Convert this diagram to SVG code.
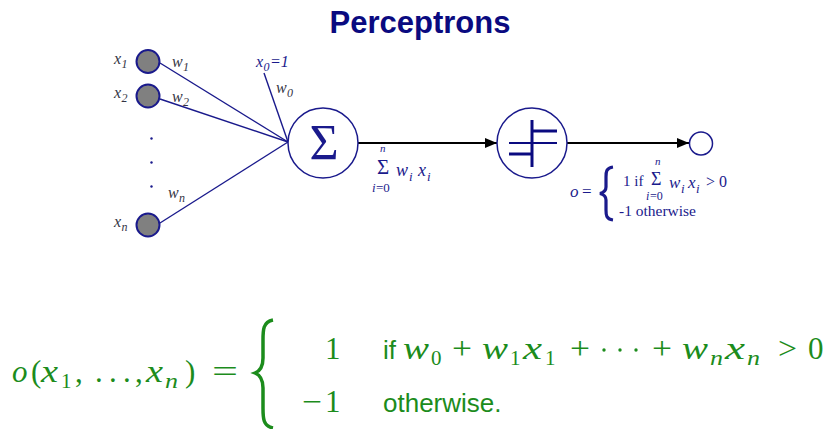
<svg xmlns="http://www.w3.org/2000/svg" width="833" height="429" viewBox="0 0 833 429">
<defs>
<style>
.title{font-family:"Liberation Sans",Arial,sans-serif;font-weight:bold;font-size:31px;fill:#0a0a80}
.lbl{font-family:"Liberation Serif","Times New Roman",serif;font-style:italic;fill:#333344}
.blu{font-family:"Liberation Serif","Times New Roman",serif;fill:#1a1a8c}
.it{font-style:italic}
.node{fill:#808080;stroke:#1a1a8c;stroke-width:2}
.unit{fill:#ffffff;stroke:#1a1a8c;stroke-width:1.5}
.wire{stroke:#1a1a8c;stroke-width:1.4;fill:none}
.arrow{stroke:#000;stroke-width:2;fill:none}
.thr{stroke:#0a0a80;fill:none}
.m{font-family:"Liberation Serif","Times New Roman",serif;font-size:31px;fill:#1c8c1c}
.ms{font-family:"Liberation Serif","Times New Roman",serif;font-size:21px;fill:#1c8c1c}
.t{font-family:"Liberation Sans",Arial,sans-serif;font-size:26px;fill:#1c8c1c}
</style>
<marker id="ah" markerWidth="12" markerHeight="10" refX="12" refY="5" orient="auto" markerUnits="userSpaceOnUse">
<path d="M0,0 L12,5 L0,10 Z" fill="#000"/>
</marker>
</defs>

<text class="title" x="420" y="33" text-anchor="middle">Perceptrons</text>

<g id="connectors">
<line class="wire" x1="160" y1="63" x2="288" y2="142"/>
<line class="wire" x1="160" y1="99" x2="288" y2="142"/>
<line class="wire" x1="160" y1="223" x2="288" y2="142"/>
<line class="wire" x1="264" y1="73" x2="288" y2="142"/>
<line class="arrow" x1="358" y1="143" x2="497" y2="143" marker-end="url(#ah)"/>
<line class="arrow" x1="567" y1="143" x2="689" y2="143" marker-end="url(#ah)"/>
</g>

<g id="x1">
<circle class="node" cx="148" cy="61.5" r="11.5"/>
<text class="lbl" x="114" y="64" font-size="16">x</text>
<text class="lbl" x="121.5" y="68" font-size="12">1</text>
<text class="lbl" x="172" y="67" font-size="16">w</text>
<text class="lbl" x="183" y="71" font-size="12">1</text>
</g>

<g id="x2">
<circle class="node" cx="148" cy="96" r="11.5"/>
<text class="lbl" x="114" y="98" font-size="16">x</text>
<text class="lbl" x="121.5" y="102" font-size="12">2</text>
<text class="lbl" x="172" y="102" font-size="16">w</text>
<text class="lbl" x="183" y="106" font-size="12">2</text>
</g>

<g id="dots">
<circle cx="151.5" cy="138.5" r="1.2" fill="#1a1a8c"/>
<circle cx="151.5" cy="162.5" r="1.2" fill="#1a1a8c"/>
<circle cx="151.5" cy="186.5" r="1.2" fill="#1a1a8c"/>
</g>

<g id="xn">
<circle class="node" cx="148" cy="225" r="11.5"/>
<text class="lbl" x="114" y="227" font-size="16">x</text>
<text class="lbl" x="121.5" y="231" font-size="12">n</text>
<text class="lbl" x="168" y="198" font-size="16">w</text>
<text class="lbl" x="179" y="202" font-size="12">n</text>
</g>

<g id="x0">
<text class="blu it" x="256" y="67" font-size="16">x</text>
<text class="blu it" x="263.5" y="71" font-size="12">0</text>
<text class="blu it" x="270" y="67" font-size="16">=1</text>
<text class="lbl" x="276" y="93" font-size="16">w</text>
<text class="lbl" x="287" y="97" font-size="12">0</text>
</g>

<g id="sum">
<circle class="unit" cx="323" cy="143" r="35"/>
<text class="blu" x="324" y="159" font-size="50" text-anchor="middle" fill="#0a0a80">Σ</text>
<text class="blu it" x="380" y="152" font-size="11">n</text>
<text class="blu" x="377" y="174" font-size="21">Σ</text>
<text class="blu it" x="372" y="192" font-size="13">i</text>
<text class="blu" x="376" y="192" font-size="13">=0</text>
<text class="blu it" x="396" y="176" font-size="18">w</text>
<text class="blu it" x="409" y="181" font-size="13">i</text>
<text class="blu it" x="418" y="176" font-size="18">x</text>
<text class="blu it" x="427" y="181" font-size="13">i</text>
</g>

<g id="threshold">
<circle class="unit" cx="532" cy="143" r="35"/>
<line class="thr" x1="532" y1="120" x2="532" y2="167" stroke-width="3"/>
<line class="thr" x1="531" y1="131" x2="557" y2="131" stroke-width="3"/>
<line class="thr" x1="509" y1="143" x2="557" y2="143" stroke-width="2"/>
<line class="thr" x1="509" y1="154" x2="533" y2="154" stroke-width="3"/>
</g>

<g id="output">
<circle class="unit" cx="701" cy="143.5" r="11.5"/>
<text class="blu it" x="570" y="197" font-size="17">o</text>
<text class="blu" x="582" y="197" font-size="17">=</text>
<path d="M613,167 C606,168 606,172 606,177 L606,187 C606,190 604,192.5 600,193.5 C604,194.5 606,197 606,200 L606,210 C606,215 606,219 613,220" stroke="#1a1a8c" stroke-width="3.2" fill="none"/>
<text class="blu" x="623" y="186" font-size="15">1 if</text>
<text class="blu it" x="655" y="165" font-size="11">n</text>
<text class="blu" x="651" y="185" font-size="18">Σ</text>
<text class="blu it" x="646" y="200" font-size="12">i</text>
<text class="blu" x="650" y="200" font-size="12">=0</text>
<text class="blu it" x="669" y="188" font-size="17">w</text>
<text class="blu it" x="681" y="193" font-size="13">i</text>
<text class="blu it" x="688" y="188" font-size="17">x</text>
<text class="blu it" x="696" y="193" font-size="13">i</text>
<text class="blu" x="706" y="187" font-size="16">&gt; 0</text>
<text class="blu" x="619" y="216" font-size="14" textLength="77" lengthAdjust="spacingAndGlyphs">-1 otherwise</text>
</g>

<g id="formula">
<text class="m it" x="12" y="382">o</text>
<text class="m" x="31" y="382">(</text>
<text class="m it" x="41" y="382" textLength="17" lengthAdjust="spacingAndGlyphs">x</text>
<text class="ms" x="61" y="388">1</text>
<text class="m" x="75" y="382">,</text>
<text class="m" x="95" y="382">.</text>
<text class="m" x="109" y="382">.</text>
<text class="m" x="123" y="382">.</text>
<text class="m" x="135" y="382">,</text>
<text class="m it" x="146" y="382" textLength="17" lengthAdjust="spacingAndGlyphs">x</text>
<text class="ms it" x="165" y="388" textLength="13" lengthAdjust="spacingAndGlyphs">n</text>
<text class="m" x="185" y="382">)</text>
<text class="m" x="212" y="382" textLength="26" lengthAdjust="spacingAndGlyphs">=</text>
<path d="M273,320 C263,322 263,330 263,340 L263,358 C263,366 260,371 255,373 C260,375 263,380 263,388 L263,408 C263,418 263,426 273,428" stroke="#1c8c1c" stroke-width="3.5" fill="none"/>
<text class="m" x="325" y="359">1</text>
<text class="m" x="302" y="412" textLength="20" lengthAdjust="spacingAndGlyphs">−</text>
<text class="m" x="325" y="412">1</text>
<text class="t" x="383" y="359">if</text>
<text class="m it" x="403" y="359" textLength="26" lengthAdjust="spacingAndGlyphs">w</text>
<text class="ms" x="431" y="365">0</text>
<text class="m" x="452" y="359" textLength="20" lengthAdjust="spacingAndGlyphs">+</text>
<text class="m it" x="482" y="359" textLength="26" lengthAdjust="spacingAndGlyphs">w</text>
<text class="ms" x="510" y="365">1</text>
<text class="m it" x="523" y="359" textLength="19" lengthAdjust="spacingAndGlyphs">x</text>
<text class="ms" x="545" y="365">1</text>
<text class="m" x="570" y="359" textLength="20" lengthAdjust="spacingAndGlyphs">+</text>
<circle cx="604" cy="350" r="1.7" fill="#1c8c1c"/>
<circle cx="620" cy="350" r="1.7" fill="#1c8c1c"/>
<circle cx="636" cy="350" r="1.7" fill="#1c8c1c"/>
<text class="m" x="652" y="359" textLength="20" lengthAdjust="spacingAndGlyphs">+</text>
<text class="m it" x="682" y="359" textLength="26" lengthAdjust="spacingAndGlyphs">w</text>
<text class="ms it" x="710" y="365" textLength="13" lengthAdjust="spacingAndGlyphs">n</text>
<text class="m it" x="725" y="359" textLength="20" lengthAdjust="spacingAndGlyphs">x</text>
<text class="ms it" x="747" y="365" textLength="13" lengthAdjust="spacingAndGlyphs">n</text>
<text class="m" x="778" y="359" textLength="19" lengthAdjust="spacingAndGlyphs">&gt;</text>
<text class="m" x="808" y="359">0</text>
<text class="t" x="383" y="412">otherwise.</text>
</g>
</svg>
